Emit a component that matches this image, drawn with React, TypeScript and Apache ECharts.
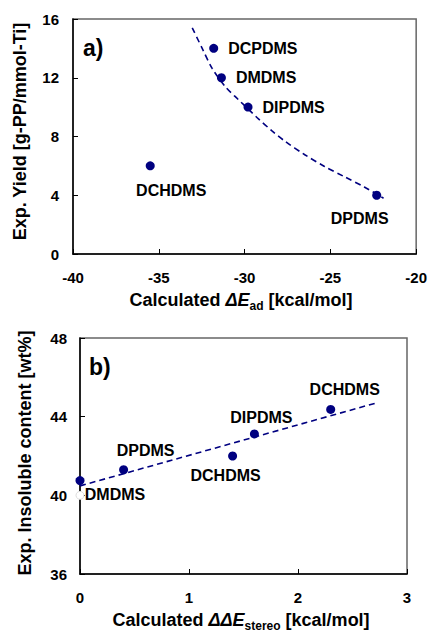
import React, { useEffect, useRef } from "react";
import * as echarts from "echarts";

// ---- Panel a) data ----
const aNames = ["DCPDMS", "DMDMS", "DIPDMS", "DCHDMS", "DPDMS"];
const aEad = [-31.8, -31.35, -29.8, -35.5, -22.3];
const aYield = [14.0, 12.0, 10.0, 6.0, 4.0];
// dashed trend curve
const aTrendX = [-33.05, -32.47, -31.89, -31.12, -30.4, -29.77, -29.19, -28.42, -27.65, -26.49, -25.34, -24.18, -23.02, -21.9];
const aTrendY = [15.4, 14.0, 12.64, 11.39, 10.55, 9.85, 9.2, 8.4, 7.68, 6.76, 5.96, 5.26, 4.56, 3.8];
const aXTicks = { min: -40, max: -20, interval: 5 };
const aYTicks = { min: 0, max: 16, interval: 4 };

// ---- Panel b) data ----
const bNames = ["DMDMS", "DPDMS", "DCHDMS", "DIPDMS", "DCHDMS"];
const bDDE = [0.0, 0.4, 1.4, 1.6, 2.3];
const bInsoluble = [40.75, 41.3, 42.0, 43.12, 44.37];
const bHiddenX = [0];
const bHiddenY = [40];
const bTrendX = [0, 2.72];
const bTrendY = [40.48, 44.7];
const bXTicks = { min: 0, max: 3, interval: 1 };
const bYTicks = { min: 36, max: 48, interval: 4 };

// ---- label placement (layout, not data) ----
const aLabelLayout: any[] = [
  { position: "right", distance: 10 },
  { position: "right", distance: 10 },
  { position: "right", distance: 10 },
  { position: "inside", offset: [21, 25] },
  { position: "inside", offset: [-17, 23] },
];
const bLabelLayout: any[] = [
  { position: "inside", offset: [35, 14] },
  { position: "inside", offset: [22, -19] },
  { position: "inside", offset: [-7, 19] },
  { position: "inside", offset: [7, -16] },
  { position: "inside", offset: [14, -20] },
];

const FONT = "'Liberation Sans', Arial, Helvetica, sans-serif";
const NAVY = "#000080";

export default function App() {
  const ref = useRef<HTMLDivElement>(null);
  useEffect(() => {
    if (!ref.current) return;
    const chart = echarts.init(ref.current, undefined, { renderer: "svg" });

    const axisCommon = {
      axisLine: { show: true, onZero: false, lineStyle: { color: "#000", width: 1.5 } },
      axisTick: { show: true, inside: true, length: 5, lineStyle: { color: "#000", width: 1 } },
      splitLine: { show: false },
      axisLabel: { color: "#000", fontWeight: "bold", fontSize: 15, fontFamily: FONT },
    };

    const labelBase = {
      show: true,
      formatter: "{b}",
      color: "#000",
      fontWeight: "bold",
      fontSize: 16,
      fontFamily: FONT,
    };

    const titleRich = {
      n: { fontSize: 18, fontWeight: "bold", fontFamily: FONT, lineHeight: 24, fill: "#000" },
      i: { fontSize: 18, fontWeight: "bold", fontStyle: "italic", fontFamily: FONT, lineHeight: 24, fill: "#000" },
      s: { fontSize: 12, fontWeight: "bold", fontFamily: FONT, lineHeight: 12, verticalAlign: "bottom", fill: "#000" },
    };

    const option: any = {
      animation: false,
      backgroundColor: "#fff",
      grid: [
        { left: 73, top: 19, width: 346, height: 235, show: true, borderColor: "#666", borderWidth: 1.5, backgroundColor: "transparent" },
        { left: 80, top: 338, width: 327, height: 236, show: true, borderColor: "#666", borderWidth: 1.5, backgroundColor: "transparent" },
      ],
      xAxis: [
        { type: "value", gridIndex: 0, ...aXTicks, ...axisCommon, axisLabel: { ...axisCommon.axisLabel, margin: 16 } },
        { type: "value", gridIndex: 1, ...bXTicks, ...axisCommon, axisLabel: { ...axisCommon.axisLabel, margin: 16 } },
      ],
      yAxis: [
        { type: "value", gridIndex: 0, ...aYTicks, ...axisCommon, axisLabel: { ...axisCommon.axisLabel, margin: 14 } },
        { type: "value", gridIndex: 1, ...bYTicks, ...axisCommon, axisLabel: { ...axisCommon.axisLabel, margin: 13 } },
      ],
      series: [
        {
          type: "line",
          xAxisIndex: 0,
          yAxisIndex: 0,
          data: aTrendX.map((x, i) => [x, aTrendY[i]]),
          smooth: 0.3,
          showSymbol: false,
          lineStyle: { color: NAVY, width: 1.6, type: [6, 4] },
          z: 2,
        },
        {
          type: "scatter",
          xAxisIndex: 0,
          yAxisIndex: 0,
          symbol: "circle",
          symbolSize: 9,
          itemStyle: { color: NAVY, opacity: 1 },
          data: aNames.map((n, i) => ({
            name: n,
            value: [aEad[i], aYield[i]],
            label: { ...labelBase, ...aLabelLayout[i] },
          })),
          z: 3,
        },
        {
          type: "line",
          xAxisIndex: 1,
          yAxisIndex: 1,
          data: bTrendX.map((x, i) => [x, bTrendY[i]]),
          showSymbol: false,
          lineStyle: { color: NAVY, width: 1.6, type: [6, 4] },
          z: 2,
        },
        {
          type: "scatter",
          xAxisIndex: 1,
          yAxisIndex: 1,
          symbol: "circle",
          symbolSize: 8,
          itemStyle: { color: "#fff", borderColor: "#ddd", borderWidth: 1, opacity: 1 },
          data: bHiddenX.map((x, i) => [x, bHiddenY[i]]),
          z: 4,
        },
        {
          type: "scatter",
          xAxisIndex: 1,
          yAxisIndex: 1,
          symbol: "circle",
          symbolSize: 9,
          itemStyle: { color: NAVY, opacity: 1 },
          data: bNames.map((n, i) => ({
            name: n,
            value: [bDDE[i], bInsoluble[i]],
            label: { ...labelBase, ...bLabelLayout[i] },
          })),
          z: 3,
        },
      ],
      graphic: [
        {
          type: "text",
          left: 83,
          top: 36,
          style: { text: "a)", fontSize: 23, fontWeight: "bold", fontFamily: FONT, fill: "#000" },
        },
        {
          type: "text",
          left: 89,
          top: 355,
          style: { text: "b)", fontSize: 23, fontWeight: "bold", fontFamily: FONT, fill: "#000" },
        },
        {
          type: "text",
          x: 19.5,
          y: 131.5,
          rotation: Math.PI / 2,
          style: {
            text: "Exp. Yield [g-PP/mmol-Ti]",
            fontSize: 18,
            fontWeight: "bold",
            fontFamily: FONT,
            fill: "#000",
            align: "center",
            verticalAlign: "middle",
          },
        },
        {
          type: "text",
          x: 25,
          y: 453,
          rotation: Math.PI / 2,
          style: {
            text: "Exp. Insoluble content [wt%]",
            fontSize: 18,
            fontWeight: "bold",
            fontFamily: FONT,
            fill: "#000",
            align: "center",
            verticalAlign: "middle",
          },
        },
        {
          type: "text",
          x: 241,
          y: 300,
          style: {
            text: "{n|Calculated }{i|ΔE}{s|ad}{n| [kcal/mol]}",
            rich: titleRich,
            align: "center",
            verticalAlign: "middle",
          },
        },
        {
          type: "text",
          x: 241,
          y: 620,
          style: {
            text: "{n|Calculated }{i|ΔΔE}{s|stereo}{n| [kcal/mol]}",
            rich: titleRich,
            align: "center",
            verticalAlign: "middle",
          },
        },
      ],
    };

    chart.setOption(option);
    return () => chart.dispose();
  }, []);

  return (
    <div
      ref={ref}
      style={{ position: "absolute", left: 0, top: 0, width: 430, height: 634, background: "#fff" }}
    />
  );
}
